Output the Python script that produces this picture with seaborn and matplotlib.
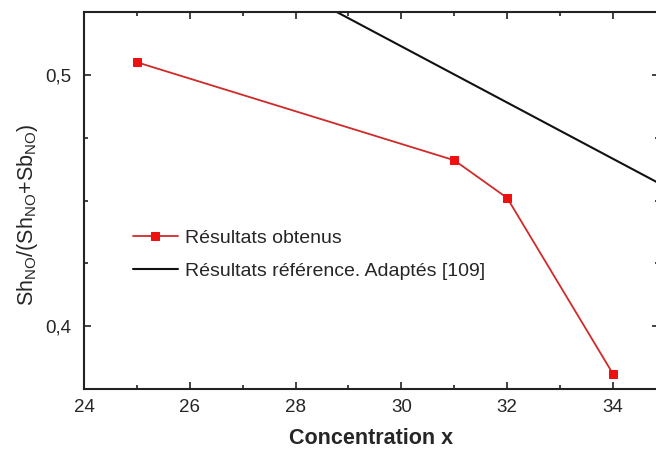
import matplotlib
matplotlib.use("Agg")
import matplotlib.pyplot as plt
import seaborn as sns
from matplotlib.ticker import MultipleLocator, FuncFormatter

# Measured ratio against concentration
conc_obtenus = [25, 31, 32, 34]
ratio_obtenus = [0.505, 0.466, 0.451, 0.381]

# Reference trend (adapted from [109])
conc_reference = [28, 35]
ratio_reference = [0.5337, 0.4554]

label_obtenus = "Résultats obtenus"
label_reference = "Résultats référence. Adaptés [109]"

sns.set_style("ticks")
plt.rcParams['font.family'] = ['Liberation Sans', 'DejaVu Sans']
plt.rcParams['mathtext.fontset'] = 'custom'
plt.rcParams['mathtext.rm'] = 'Liberation Sans'
plt.rcParams['mathtext.it'] = 'Liberation Sans:italic'
plt.rcParams['mathtext.bf'] = 'Liberation Sans:bold'

W, H = 656, 457
fig = plt.figure(figsize=(W / 100, H / 100), dpi=100)
fig.patch.set_facecolor('white')
ax = fig.add_axes([84 / W, (H - 389) / H, (659 - 84) / W, (389 - 12) / H])

sns.lineplot(x=conc_obtenus, y=ratio_obtenus, ax=ax, color='#d02a2a',
             linewidth=1.3, marker='s', markersize=6,
             markerfacecolor='#ee1111', markeredgecolor='#ee1111',
             label=label_obtenus, zorder=3)
sns.lineplot(x=conc_reference, y=ratio_reference, ax=ax, color='#111111',
             linewidth=1.5, label=label_reference, zorder=2)

ax.set_xlim(24, 24 + (659 - 84) / 52.9)
ax.set_ylim(0.375, 0.525)

ax.xaxis.set_major_locator(MultipleLocator(2))
ax.xaxis.set_minor_locator(MultipleLocator(1))
ax.yaxis.set_major_locator(MultipleLocator(0.1))
ax.yaxis.set_minor_locator(MultipleLocator(0.025))
ax.xaxis.set_major_formatter(FuncFormatter(lambda v, p: f"{v:.0f}"))
ax.yaxis.set_major_formatter(FuncFormatter(lambda v, p: f"{v:.1f}".replace('.', ',')))

for s in ax.spines.values():
    s.set_linewidth(1.5)
    s.set_color('#222222')
ax.tick_params(which='both', direction='in', top=True, right=True,
               width=1.3, color='#333333', labelsize=13.5)
ax.tick_params(which='major', length=5)
ax.tick_params(which='minor', length=3)
ax.tick_params(axis='x', pad=7)
ax.tick_params(axis='y', pad=9)

ax.set_xlabel("Concentration x", fontsize=15.5, fontweight='bold', labelpad=9)
ax.set_ylabel(r"Sh$_{\mathregular{NO}}$/(Sh$_{\mathregular{NO}}$+Sb$_{\mathregular{NO}}$)",
              fontsize=15.5)
ax.yaxis.set_label_coords((40 - 84) / 575, (389 - 215) / 377)

leg = ax.legend(loc='upper left', bbox_to_anchor=((133 - 84) / 575, (389 - 229) / 377),
                frameon=False, fontsize=14, handlelength=2.3,
                handletextpad=0.35, labelspacing=0.8, borderaxespad=0,
                borderpad=0)

fig.savefig("out.png", dpi=100, facecolor='white')
